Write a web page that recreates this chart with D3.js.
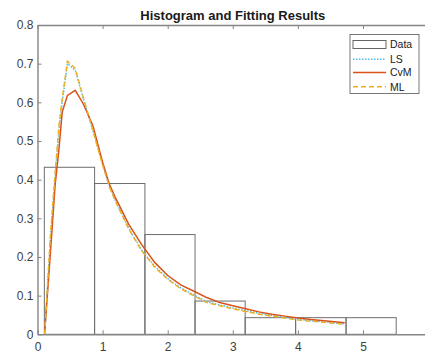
<!DOCTYPE html>
<html>
<head>
<meta charset="utf-8">
<script src="https://cdn.jsdelivr.net/npm/d3@7"></script>
<style>
  body { margin: 0; background: #fff; }
  svg { font-family: "Liberation Sans", Arial, sans-serif; }
</style>
</head>
<body>
<svg id="chart" width="425" height="354"></svg>
<script>
// histogram bins and heights
const binEdges = [0.105, 0.877, 1.65, 2.42, 3.19, 3.965, 4.74, 5.51];
const binHeights = [0.432, 0.390, 0.258, 0.086, 0.043, 0.043, 0.043];

// fitted curves
const xs  = [0.11, 0.2, 0.27, 0.33, 0.38, 0.46, 0.58, 0.7, 0.85, 1.0, 1.1, 1.2, 1.4, 1.6, 1.8, 2.0, 2.2, 2.42, 2.6, 2.8, 3.0, 3.2, 3.4, 3.6, 3.8, 4.0, 4.2, 4.4, 4.6, 4.72];
const ls  = [0.0, 0.25, 0.405, 0.53, 0.60, 0.70, 0.683, 0.612, 0.528, 0.44, 0.385, 0.345, 0.275, 0.218, 0.176, 0.144, 0.120, 0.100, 0.084, 0.076, 0.068, 0.061, 0.054, 0.049, 0.044, 0.039, 0.035, 0.032, 0.029, 0.027];
const cvm = [0.005, 0.215, 0.385, 0.48, 0.575, 0.618, 0.631, 0.597, 0.54, 0.445, 0.39, 0.352, 0.285, 0.232, 0.186, 0.152, 0.128, 0.110, 0.095, 0.082, 0.074, 0.066, 0.058, 0.052, 0.047, 0.042, 0.038, 0.035, 0.032, 0.030];
const ml  = [0.0, 0.26, 0.415, 0.54, 0.61, 0.706, 0.688, 0.614, 0.528, 0.438, 0.383, 0.343, 0.273, 0.216, 0.174, 0.142, 0.118, 0.098, 0.082, 0.074, 0.066, 0.059, 0.052, 0.047, 0.042, 0.037, 0.034, 0.031, 0.028, 0.026];

const xTicks = [0, 1, 2, 3, 4, 5, 6];
const xLabels = ["0", "1", "2", "3", "4", "5", ""];
const yTicks = [0, 0.1, 0.2, 0.3, 0.4, 0.5, 0.6, 0.7, 0.8];
const legendLabels = ["Data", "LS", "CvM", "ML"];

const svg = d3.select("#chart");
const plotLeft = 37.5, plotRight = 428.1, plotTop = 25, plotBottom = 334.3;

const x = d3.scaleLinear().domain([0, 6]).range([plotLeft, plotRight]);
const y = d3.scaleLinear().domain([0, 0.8]).range([plotBottom, plotTop]);

const axisCol = "#858585", textCol = "#404040";

// bars
svg.append("g").selectAll("rect")
  .data(binHeights)
  .enter().append("rect")
  .attr("x", (d, i) => x(binEdges[i]))
  .attr("y", d => y(d))
  .attr("width", (d, i) => x(binEdges[i + 1]) - x(binEdges[i]))
  .attr("height", d => y(0) - y(d))
  .attr("fill", "none")
  .attr("stroke", "#6e6e6e")
  .attr("stroke-width", 1);

// curves
const series = [
  { vals: ls,  color: "#4DBEEE", dash: "1.5,1.5" },
  { vals: cvm, color: "#D95319", dash: null },
  { vals: ml,  color: "#EDB120", dash: "5,3" }
];
const line = d3.line().x(d => x(d[0])).y(d => y(d[1]));
series.forEach(s => {
  svg.append("path")
    .datum(xs.map((v, i) => [v, s.vals[i]]))
    .attr("d", line)
    .attr("fill", "none")
    .attr("stroke", s.color)
    .attr("stroke-width", 1.5)
    .attr("stroke-dasharray", s.dash);
});

// axes
function styleAxis(g) {
  g.select(".domain").attr("stroke", axisCol).attr("stroke-width", 1.4);
  g.selectAll(".tick line").attr("stroke", axisCol);
  g.selectAll(".tick text").attr("fill", textCol).style("font-size", "12px");
}

svg.append("g")
  .attr("transform", "translate(0," + plotBottom + ")")
  .call(d3.axisBottom(x).tickValues(xTicks).tickSizeInner(-4).tickSizeOuter(0).tickPadding(8)
    .tickFormat((d, i) => xLabels[i]))
  .call(styleAxis);

svg.append("g")
  .attr("transform", "translate(0," + plotTop + ")")
  .call(d3.axisTop(x).tickValues(xTicks).tickSizeInner(-4).tickSizeOuter(0).tickFormat(""))
  .call(styleAxis);

svg.append("g")
  .attr("transform", "translate(" + plotLeft + ",0)")
  .call(d3.axisLeft(y).tickValues(yTicks).tickSizeInner(-4).tickSizeOuter(0).tickPadding(4)
    .tickFormat(d => d === 0 ? "0" : d3.format(".1f")(d)))
  .call(styleAxis);

// title
svg.append("text")
  .attr("x", (plotLeft + plotRight) / 2)
  .attr("y", 20)
  .attr("text-anchor", "middle")
  .style("font-size", "13px")
  .style("font-weight", "bold")
  .attr("fill", "#1a1a1a")
  .text("Histogram and Fitting Results");

// legend
const lg = svg.append("g");
lg.append("rect")
  .attr("x", 350).attr("y", 34.5).attr("width", 69).attr("height", 59)
  .attr("fill", "#fff").attr("stroke", "#555").attr("stroke-width", 0.8);
const rowY = [44.5, 59.3, 72.5, 86.7];
lg.append("rect")
  .attr("x", 353).attr("y", 40.5).attr("width", 33).attr("height", 8)
  .attr("fill", "none").attr("stroke", "#555").attr("stroke-width", 0.9);
series.forEach((s, i) => {
  lg.append("line")
    .attr("x1", 353).attr("x2", 386)
    .attr("y1", rowY[i + 1]).attr("y2", rowY[i + 1])
    .attr("stroke", s.color).attr("stroke-width", 1.5)
    .attr("stroke-dasharray", s.dash);
});
lg.selectAll("text.lab")
  .data(legendLabels)
  .enter().append("text")
  .attr("x", 390)
  .attr("y", (d, i) => rowY[i] + 3.8)
  .style("font-size", "10.5px")
  .attr("fill", "#1a1a1a")
  .text(d => d);
</script>
</body>
</html>
